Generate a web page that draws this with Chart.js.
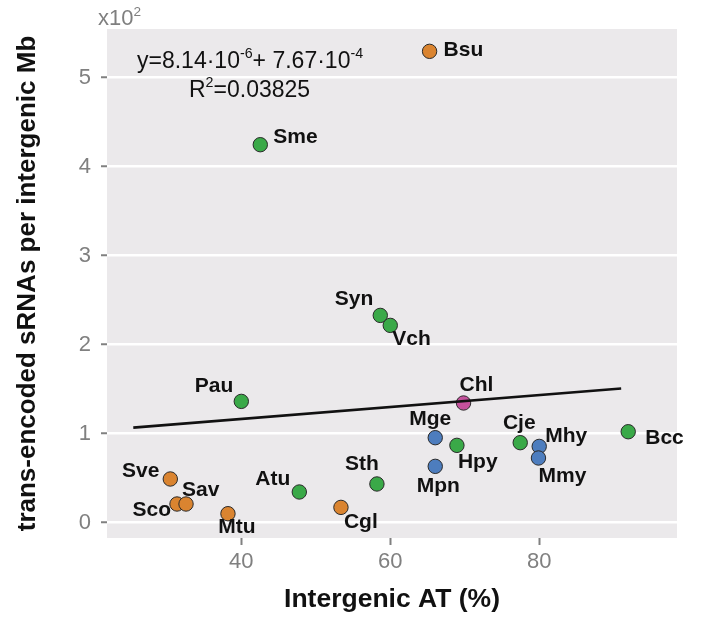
<!DOCTYPE html>
<html>
<head>
<meta charset="utf-8">
<script src="https://cdn.jsdelivr.net/npm/chart.js@4/dist/chart.umd.min.js"></script>
<style>
  html, body { margin: 0; padding: 0; background: #ffffff; }
  #wrap { width: 706px; height: 621px; }
</style>
</head>
<body>
<div id="wrap"><canvas id="c" width="706" height="621"></canvas></div>
<script>
// ---------------- data ----------------
// x: intergenic AT (%), y: trans-encoded sRNAs per intergenic Mb (x10^2)
const orangeNames = ['Sve', 'Sco', 'Sav', 'Mtu', 'Cgl', 'Bsu'];
const orangeAT    = [30.47, 31.37, 32.58, 38.21, 53.38, 65.28];
const orangeRate  = [0.491, 0.210, 0.210, 0.101, 0.172, 5.296];

const greenNames = ['Sme', 'Syn', 'Vch', 'Pau', 'Hpy', 'Cje', 'Bcc', 'Sth', 'Atu'];
const greenAT    = [42.55, 58.66, 60.00, 40.00, 68.95, 77.45, 91.95, 58.21, 47.79];
const greenRate  = [4.247, 2.329, 2.217, 1.363, 0.869, 0.899, 1.022, 0.435, 0.345];

const blueNames = ['Mge', 'Mpn', 'Mhy', 'Mmy'];
const blueAT    = [66.04, 66.04, 80.00, 79.90];
const blueRate  = [0.955, 0.633, 0.857, 0.727];

const pinkNames = ['Chl'];
const pinkAT    = [69.84];
const pinkRate  = [1.345];

// regression line end points
const fitAT   = [25.5, 91.0];
const fitRate = [1.068, 1.507];

// axis ticks
const xTicks = [40, 60, 80];
const yTicks = [0, 1, 2, 3, 4, 5];

// ---------------- styling / label placement ----------------
const FONT = '"Liberation Sans", Arial, Helvetica, sans-serif';
const labelPlacement = {
  Bsu: [14, -1, 'left'],  Sme: [13, -7, 'left'],  Syn: [-7, -16, 'right'],
  Vch: [2, 14, 'left'],   Pau: [-8, -15, 'right'], Chl: [13, -18, 'center'],
  Mge: [-5, -18, 'center'], Hpy: [1, 17, 'left'], Cje: [-1, -19, 'center'],
  Mhy: [6, -10, 'left'],  Mmy: [0, 18, 'left'],   Bcc: [17, 6, 'left'],
  Mpn: [3, 20, 'center'], Sth: [-15, -20, 'center'], Atu: [-9, -13, 'right'],
  Cgl: [3, 15, 'left'],   Sve: [-11, -8, 'right'], Sav: [-4, -14, 'left'],
  Sco: [-6, 6, 'right'],  Mtu: [9, 14, 'center']
};

function pts(xs, ys) { return xs.map((x, i) => ({ x: x, y: ys[i] })); }

function scatterSet(names, xs, ys, color) {
  return {
    type: 'scatter',
    data: pts(xs, ys),
    names: names,
    backgroundColor: color,
    borderColor: '#2a2a2a',
    borderWidth: 1,
    pointRadius: 7.2,
    pointHoverRadius: 7.2
  };
}

const bgPlugin = {
  id: 'panelBg',
  beforeDraw(chart) {
    const a = chart.chartArea, ctx = chart.ctx;
    ctx.save();
    ctx.fillStyle = '#EBE9EB';
    ctx.fillRect(a.left, a.top, a.right - a.left, a.bottom - a.top);
    ctx.restore();
  }
};

function drawRich(ctx, parts, x, y, size, color) {
  let cx = x;
  ctx.save();
  ctx.fillStyle = color;
  ctx.textAlign = 'left';
  ctx.textBaseline = 'alphabetic';
  parts.forEach(p => {
    const s = p.sup ? size * 0.62 : size;
    ctx.font = s + 'px ' + FONT;
    const yy = p.sup ? y - size * 0.42 : y;
    ctx.fillText(p.t, cx, yy);
    cx += ctx.measureText(p.t).width;
  });
  ctx.restore();
}

const textPlugin = {
  id: 'texts',
  afterDatasetsDraw(chart) {
    const ctx = chart.ctx;
    ctx.save();
    ctx.font = 'bold 21px ' + FONT;
    ctx.fillStyle = '#111111';
    ctx.textBaseline = 'middle';
    chart.data.datasets.forEach((ds, di) => {
      if (!ds.names) return;
      const meta = chart.getDatasetMeta(di);
      meta.data.forEach((el, i) => {
        const nm = ds.names[i];
        const pl = labelPlacement[nm] || [10, 0, 'left'];
        ctx.textAlign = pl[2];
        ctx.fillText(nm, el.x + pl[0], el.y + pl[1]);
      });
    });
    ctx.restore();
    // equation annotation
    drawRich(ctx, [{ t: 'y=8.14·10' }, { t: '-6', sup: true }, { t: '+ 7.67·10' }, { t: '-4', sup: true }],
             137, 68, 23, '#111111');
    drawRich(ctx, [{ t: 'R' }, { t: '2', sup: true }, { t: '=0.03825' }], 189, 97, 23, '#111111');
    // axis multiplier
    drawRich(ctx, [{ t: 'x10' }, { t: '2', sup: true }], 98, 25, 22, '#7f7f7f');
  }
};

new Chart(document.getElementById('c'), {
  data: {
    datasets: [
      {
        type: 'line',
        data: pts(fitAT, fitRate),
        borderColor: '#111111',
        borderWidth: 2.6,
        pointRadius: 0,
        fill: false
      },
      scatterSet(pinkNames, pinkAT, pinkRate, '#C4519C'),
      scatterSet(blueNames, blueAT, blueRate, '#4D7DBE'),
      scatterSet(greenNames, greenAT, greenRate, '#3AA948'),
      scatterSet(orangeNames, orangeAT, orangeRate, '#DA8430')
    ]
  },
  options: {
    responsive: false,
    animation: false,
    devicePixelRatio: 1,
    events: [],
    layout: { padding: { top: 29, right: 29, left: 0, bottom: 0 } },
    plugins: { legend: { display: false }, tooltip: { enabled: false } },
    scales: {
      x: {
        type: 'linear',
        min: 21.97,
        max: 98.5,
        afterBuildTicks(s) { s.ticks = xTicks.map(v => ({ value: v })); },
        afterFit(s) { s.height = 83; },
        border: { display: false },
        grid: { drawOnChartArea: false, drawTicks: true, tickLength: 7, tickColor: '#808080', tickWidth: 2 },
        ticks: { color: '#808080', font: { family: FONT, size: 22 }, padding: 4, maxRotation: 0 },
        title: { display: true, text: 'Intergenic AT (%)', color: '#111111',
                 font: { family: FONT, size: 26.5, weight: 'bold' }, padding: { top: 0, bottom: 5 } }
      },
      y: {
        type: 'linear',
        min: -0.172,
        max: 5.547,
        afterBuildTicks(s) { s.ticks = yTicks.map(v => ({ value: v })); },
        afterFit(s) { s.width = 107; },
        border: { display: false },
        grid: { color: '#ffffff', lineWidth: 2.5, drawTicks: true, tickLength: 6, tickColor: '#808080', tickWidth: 2 },
        ticks: { color: '#808080', font: { family: FONT, size: 22 }, padding: 10 },
        title: { display: true, text: 'trans-encoded sRNAs per intergenic Mb', color: '#111111',
                 font: { family: FONT, size: 26, weight: 'bold' }, padding: { top: 12, bottom: 0 } }
      }
    }
  },
  plugins: [bgPlugin, textPlugin]
});
</script>
</body>
</html>
